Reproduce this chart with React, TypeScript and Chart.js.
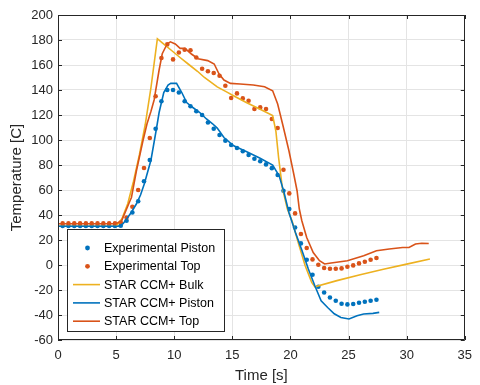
import React, { useEffect, useRef } from "react";
import { Chart, registerables } from "chart.js";
Chart.register(...registerables);

const FONT = "'Liberation Sans', Arial, Helvetica, sans-serif";
const BLUE = "#0072BD";
const RED = "#D95319";
const YELLOW = "#EDB120";
const AXIS = "#262626";

// Experimental samples (every 0.5 s)
const expTime = [
  0.4, 0.9, 1.4, 1.9, 2.4, 2.9, 3.4, 3.9, 4.4, 4.9,
  5.4, 5.9, 6.4, 6.9, 7.4, 7.9, 8.4, 8.9, 9.4, 9.9,
  10.4, 10.9, 11.4, 11.9, 12.4, 12.9, 13.4, 13.9, 14.4, 14.9,
  15.4, 15.9, 16.4, 16.9, 17.4, 17.9, 18.4, 18.9, 19.4, 19.9,
  20.4, 20.9, 21.4, 21.9, 22.4, 22.9, 23.4, 23.9, 24.4, 24.9,
  25.4, 25.9, 26.4, 26.9, 27.4,
];
const expPiston = [
  31.2, 31.2, 31.2, 31.2, 31.2, 31.2, 31.2, 31.2, 31.2, 31.2,
  31.5, 35.4, 42, 51, 67, 84, 109, 131, 140, 140,
  138, 131, 127, 123, 120, 114, 109, 104, 99.5, 96,
  93.6, 91, 88, 85, 83, 80.5, 77.5, 72, 59.4, 44.8,
  30, 17.3, 4.2, -7.8, -17.4, -22, -26, -28.6, -31, -31.5,
  -31.2, -30.2, -29.4, -28.6, -27.8,
];
const expTop = [
  33.3, 33.3, 33.3, 33.3, 33.3, 33.3, 33.3, 33.3, 33.3, 33.3,
  34, 38, 46.6, 60, 77.6, 101.6, 135, 165.6, 176.5, 164.5,
  170, 172.2, 171.8, 166, 157, 155, 153.6, 151.4, 143.4, 133.6,
  137.3, 133.3, 131.4, 124.8, 126.1, 124.8, 116.8, 109.6, 76.2, 57.3,
  41.3, 24.8, 13.6, 4.5, 0.2, -2.4, -3, -3, -2.7, -1.4,
  -0.3, 1.3, 2.6, 4.2, 5.6,
];

// STAR CCM+ Bulk
const bulkTime = [0, 5.0, 5.5, 6.0, 6.5, 7.0, 7.5, 8.0, 8.55, 9.0, 9.8, 10.5, 11.2, 12.0, 12.6, 13.7, 14.5, 15.1, 16.2, 17.35, 18.47, 18.75, 18.98, 19.3, 19.73, 20.15, 20.7, 21.27, 21.83, 22.1, 24, 26, 28, 30, 32];
const bulkTemp = [31, 31, 37, 49, 67, 88, 112, 142, 181, 177.5, 171.4, 166, 160.8, 155, 150, 142.5, 138.5, 135.4, 130, 124.8, 119.5, 107, 86, 62, 45, 35, 17, -0.6, -13.9, -17.5, -12.5, -7.8, -3.4, 0.7, 4.8];

// STAR CCM+ Piston
const pistonTime = [0, 5.2, 5.6, 5.9, 6.3, 6.74, 7.1, 7.43, 8.0, 8.47, 8.7, 9.1, 9.47, 9.7, 10.2, 10.65, 11.07, 11.6, 12.2, 12.75, 13.3, 13.7, 14.28, 15.12, 16.24, 17.35, 18.47, 19.03, 19.45, 19.87, 20.43, 21.0, 21.54, 22.1, 22.64, 23.2, 23.77, 24.34, 25.04, 25.73, 26.3, 27.1, 27.64];
const pistonTemp = [31, 31, 33, 36.8, 42, 48.8, 56, 65, 84, 109, 122, 138, 144, 145.3, 145.3, 138, 130, 126, 122, 117, 113, 109.5, 102, 95.4, 90.6, 85.6, 80, 71.4, 58, 42, 26, 11.4, -3.2, -16.6, -28.6, -34, -39, -42, -43.2, -40.6, -39.2, -38.7, -37.9];

// STAR CCM+ Top
const topTime = [0, 5.0, 5.48, 6.18, 6.32, 6.74, 7.3, 7.66, 8.0, 8.27, 8.7, 8.97, 9.39, 9.67, 10.09, 10.51, 10.93, 11.48, 12.05, 12.88, 13.44, 13.86, 14.28, 14.84, 15.67, 16.8, 17.77, 18.47, 18.9, 19.36, 19.87, 20.28, 20.57, 20.76, 20.98, 21.4, 21.96, 22.5, 22.94, 23.5, 24.9, 26.3, 27.4, 28.5, 29.65, 30.2, 30.76, 31.3, 31.9];
const topTemp = [33, 33, 35.5, 51, 54, 75, 99, 113, 123, 132, 156, 169, 176.8, 178.5, 176.8, 173.3, 173.3, 168.8, 165, 163.5, 160.8, 152.8, 148, 145.3, 144.8, 144, 142.6, 139.4, 128.8, 111.4, 91.4, 73, 59.4, 45, 35.4, 22, 10, 3.4, 0.8, 1.6, 3.4, 7.4, 11.4, 12.8, 14, 14, 16.8, 17.4, 17.2];

const xTicks = [0, 5, 10, 15, 20, 25, 30, 35];
const yTicks = [-60, -40, -20, 0, 20, 40, 60, 80, 100, 120, 140, 160, 180, 200];

const legendItems = [
  { label: "Experimental Piston", color: BLUE, kind: "dot" },
  { label: "Experimental Top", color: RED, kind: "dot" },
  { label: "STAR CCM+ Bulk", color: YELLOW, kind: "line" },
  { label: "STAR CCM+ Piston", color: BLUE, kind: "line" },
  { label: "STAR CCM+ Top", color: RED, kind: "line" },
];

const pairs = (xs: number[], ys: number[]) => xs.map((x, i) => ({ x, y: ys[i] }));

const framePlugin = {
  id: "matlabFrame",
  afterDraw(chart: any) {
    const { ctx, chartArea } = chart;
    const { left, right, top, bottom } = chartArea;
    const xs = chart.scales.x;
    const ys = chart.scales.y;
    ctx.save();
    ctx.strokeStyle = AXIS;
    ctx.lineWidth = 1;
    ctx.beginPath();
    ctx.rect(Math.round(left) + 0.5, Math.round(top) + 0.5, Math.round(right - left) - 1, Math.round(bottom - top) - 1);
    ctx.stroke();
    const tl = 4;
    ctx.beginPath();
    xTicks.forEach((v) => {
      const px = Math.round(xs.getPixelForValue(v)) + 0.5;
      ctx.moveTo(px, bottom);
      ctx.lineTo(px, bottom - tl);
      ctx.moveTo(px, top);
      ctx.lineTo(px, top + tl);
    });
    yTicks.forEach((v) => {
      const py = Math.round(ys.getPixelForValue(v)) + 0.5;
      ctx.moveTo(left, py);
      ctx.lineTo(left + tl, py);
      ctx.moveTo(right, py);
      ctx.lineTo(right - tl, py);
    });
    ctx.stroke();

    // legend box
    const bx = 67.5, by = 229.5, bw = 157, bh = 102;
    ctx.fillStyle = "#ffffff";
    ctx.fillRect(bx, by, bw, bh);
    ctx.strokeStyle = AXIS;
    ctx.strokeRect(bx, by, bw, bh);
    ctx.font = `12.5px ${FONT}`;
    ctx.textBaseline = "middle";
    ctx.textAlign = "left";
    legendItems.forEach((it, i) => {
      const cy = 248 + i * 18.3;
      if (it.kind === "dot") {
        ctx.fillStyle = it.color;
        ctx.beginPath();
        ctx.arc(87.5, cy, 2.4, 0, Math.PI * 2);
        ctx.fill();
      } else {
        ctx.strokeStyle = it.color;
        ctx.lineWidth = 1.6;
        ctx.beginPath();
        ctx.moveTo(73, cy);
        ctx.lineTo(100, cy);
        ctx.stroke();
      }
      ctx.fillStyle = "#000000";
      ctx.fillText(it.label, 104, cy + 0.5);
    });
    ctx.restore();
  },
};

export default function App() {
  const ref = useRef<HTMLCanvasElement>(null);
  useEffect(() => {
    const canvas = ref.current!;
    const lineDs = (label: string, xs: number[], ys: number[], color: string, order: number) => ({
      type: "line" as const,
      label,
      data: pairs(xs, ys),
      borderColor: color,
      backgroundColor: color,
      borderWidth: 1.6,
      pointRadius: 0,
      showLine: true,
      tension: 0,
      fill: false,
      order,
    });
    const dotDs = (label: string, ys: number[], color: string, order: number) => ({
      type: "scatter" as const,
      label,
      data: pairs(expTime, ys),
      borderColor: color,
      backgroundColor: color,
      pointRadius: 2.3,
      pointBorderWidth: 0,
      showLine: false,
      order,
    });
    const chart = new Chart(canvas, {
      type: "scatter",
      data: {
        datasets: [
          dotDs("Experimental Piston", expPiston, BLUE, 5),
          dotDs("Experimental Top", expTop, RED, 4),
          lineDs("STAR CCM+ Bulk", bulkTime, bulkTemp, YELLOW, 3),
          lineDs("STAR CCM+ Piston", pistonTime, pistonTemp, BLUE, 2),
          lineDs("STAR CCM+ Top", topTime, topTemp, RED, 1),
        ] as any,
      },
      options: {
        animation: false,
        responsive: false,
        maintainAspectRatio: false,
        layout: { padding: { top: 15, right: 7, left: 0, bottom: 0 } },
        plugins: { legend: { display: false }, tooltip: { enabled: false } },
        scales: {
          x: {
            type: "linear",
            min: 0,
            max: 35,
            afterFit: (s: any) => { s.height = 45; },
            afterBuildTicks: (s: any) => { s.ticks = xTicks.map((v) => ({ value: v })); },
            ticks: { color: AXIS, font: { family: FONT, size: 13 }, padding: 8, maxRotation: 0 },
            grid: { color: "#e4e4e4", lineWidth: 1, drawTicks: false },
            border: { display: false },
            title: { display: true, text: "Time [s]", color: AXIS, font: { family: FONT, size: 15 }, padding: { top: 0, bottom: 0 } },
          },
          y: {
            type: "linear",
            min: -60,
            max: 200,
            afterFit: (s: any) => { s.width = 58; },
            afterBuildTicks: (s: any) => { s.ticks = yTicks.map((v) => ({ value: v })); },
            ticks: { color: AXIS, font: { family: FONT, size: 13 }, padding: 5 },
            grid: { color: "#e4e4e4", lineWidth: 1, drawTicks: false },
            border: { display: false },
            title: { display: true, text: "Temperature [C]", color: AXIS, font: { family: FONT, size: 15 }, padding: { top: 8, bottom: 0 } },
          },
        },
      },
      plugins: [framePlugin],
    });
    return () => chart.destroy();
  }, []);
  return (
    <div style={{ position: "fixed", left: 0, top: 0, width: 480, height: 385, background: "#ffffff" }}>
      <canvas ref={ref} width={480} height={385} style={{ width: 480, height: 385, display: "block" }} />
    </div>
  );
}
